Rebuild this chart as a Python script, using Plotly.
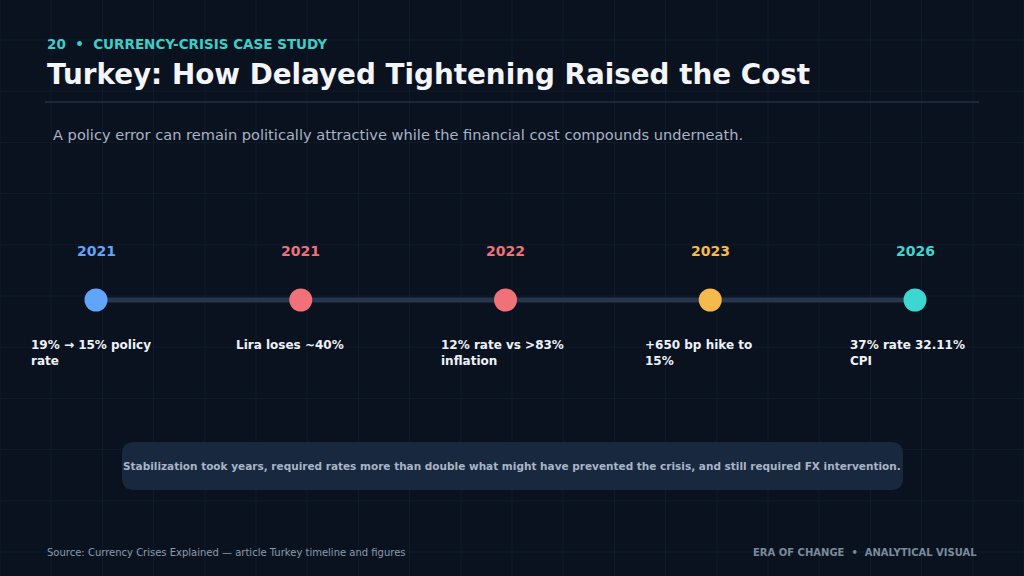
import plotly.graph_objects as go

years = ["2021", "2021", "2022", "2023", "2026"]
labels = ["19% → 15% policy<br>rate", "Lira loses ~40%", "12% rate vs >83%<br>inflation",
          "+650 bp hike to<br>15%", "37% rate 32.11%<br>CPI"]
colors = ["#60a5fa", "#f07178", "#f07178", "#f6b94c", "#3dd6d0"]
steps = [0, 1, 2, 3, 4]

W, H = 1024, 576
x0, dx, ty = 96, 204.75, 300

fig = go.Figure()
shapes = []
gc = "#0f1c2a"
for i in range(21):
    shapes.append(dict(type="line", xref="x", yref="y", x0=i*51.2, x1=i*51.2, y0=0, y1=H, line=dict(color=gc, width=1), layer="below"))
for j in range(12):
    shapes.append(dict(type="line", xref="x", yref="y", x0=0, x1=W, y0=H-j*51.2-40, y1=H-j*51.2-40, line=dict(color=gc, width=1), layer="below"))
shapes.append(dict(type="line", xref="x", yref="y", x0=45, x1=979, y0=H-102, y1=H-102, line=dict(color="#1f3044", width=1.5)))
shapes.append(dict(type="line", xref="x", yref="y", x0=x0, x1=x0+4*dx, y0=H-ty, y1=H-ty, line=dict(color="#26374d", width=5), layer="below"))
# rounded rect
L, R, T, B, r = 122, 903, H-442, H-490, 12
path = (f"M{L+r},{B} L{R-r},{B} Q{R},{B} {R},{B+r} L{R},{T-r} Q{R},{T} {R-r},{T} "
        f"L{L+r},{T} Q{L},{T} {L},{T-r} L{L},{B+r} Q{L},{B} {L+r},{B} Z")
shapes.append(dict(type="path", xref="x", yref="y", path=path, fillcolor="#17283f", line=dict(width=0), layer="below"))

xs = [x0 + s*dx for s in steps]
fig.add_trace(go.Scatter(x=xs, y=[H-ty]*5, mode="markers", marker=dict(size=23, color=colors), hoverinfo="skip"))

ann = []
F = "DejaVu Sans"
for x, yr, lb, c in zip(xs, years, labels, colors):
    ann.append(dict(x=x, y=H-251, text=f"<b>{yr}</b>", font=dict(family=F, size=14, color=c), showarrow=False))
    ann.append(dict(x=x-67, y=H-336, text=f"<b>{lb}</b>", align="left", xanchor="left", yanchor="top", font=dict(family=F, size=12, color="#eef2f7"), showarrow=False))
ann += [
    dict(x=45, y=H-44, text="<b>20  •  CURRENCY-CRISIS CASE STUDY</b>", xanchor="left", font=dict(family=F, size=13.5, color="#3ccfc8"), showarrow=False),
    dict(x=45, y=H-74, text="<b>Turkey: How Delayed Tightening Raised the Cost</b>", xanchor="left", font=dict(family=F, size=27.8, color="#f3f5f9"), showarrow=False),
    dict(x=51, y=H-134, text="A policy error can remain politically attractive while the financial cost compounds underneath.", xanchor="left", font=dict(family=F, size=14.6, color="#a9b4c4"), showarrow=False),
    dict(x=512, y=H-466, text="<b>Stabilization took years, required rates more than double what might have prevented the crisis, and still required FX intervention.</b>", font=dict(family=F, size=10.5, color="#a9b4c4"), showarrow=False),
    dict(x=45, y=H-552, text="Source: Currency Crises Explained — article Turkey timeline and figures", xanchor="left", font=dict(family=F, size=10, color="#8d99aa"), showarrow=False),
    dict(x=979, y=H-552, text="<b>ERA OF CHANGE  •  ANALYTICAL VISUAL</b>", xanchor="right", font=dict(family=F, size=10, color="#7d8a9c"), showarrow=False),
]

fig.update_layout(width=W, height=H, margin=dict(l=0, r=0, t=0, b=0),
                  paper_bgcolor="#0a1220", plot_bgcolor="#0a1220", showlegend=False,
                  xaxis=dict(range=[0, W], visible=False, fixedrange=True),
                  yaxis=dict(range=[0, H], visible=False, fixedrange=True),
                  shapes=shapes, annotations=ann)
fig.write_html("out.html", config={"displayModeBar": False},
               post_script="document.body.style.margin='0';document.body.style.background='#0a1220';")
